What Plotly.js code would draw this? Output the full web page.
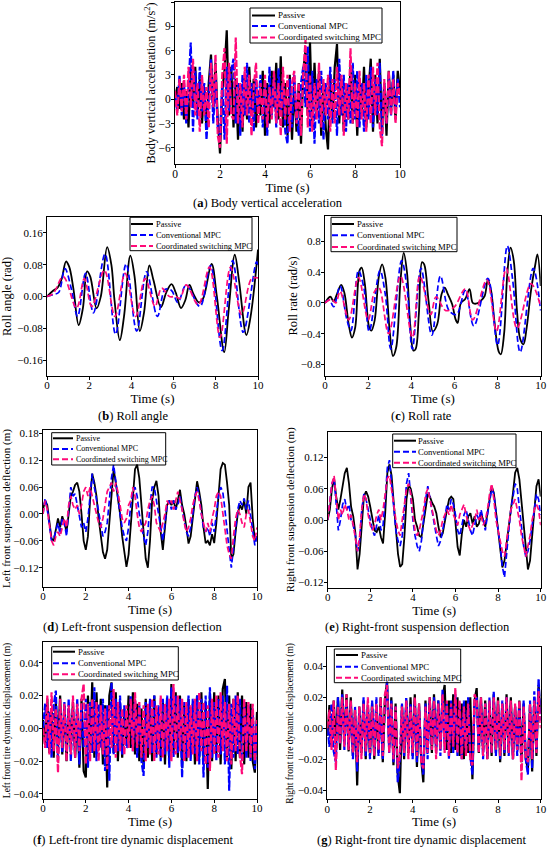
<!DOCTYPE html>
<html><head><meta charset="utf-8">
<script src="https://cdn.plot.ly/plotly-3.0.1.min.js"></script>
<style>html,body{margin:0;padding:0;background:#fff}#chart{width:550px;height:850px}</style>
</head><body><div id="chart"></div>
<script>
const seriesNames = ['Passive', 'Conventional MPC', 'Coordinated switching MPC'];
const timeStep = 0.1;

// (a) Body vertical acceleration (m/s^2), sampled every 0.1 s
const accPassive = [0,1.5,-1.2,2.0,-2.5,1.0,-3.5,3.5,-1.0,4.0,
 -2.0,2.5,-3.0,1.5,-3.8,2.0,5.5,-1.5,4.5,-2.5,
 -6.7,1.0,3.5,8.5,-2.0,4.0,-3.5,2.5,-5.0,1.5,
 -4.0,3.0,-2.5,4.0,-1.5,2.5,-3.5,1.0,-2.0,3.5,
 -4.5,2.0,-3.0,3.5,-1.0,4.5,-2.5,5.3,-3.5,2.0,
 -4.5,3.0,-5.0,1.5,-4.0,2.0,-5.5,3.5,6.0,-2.0,
 7.0,-3.0,4.5,-2.0,3.5,-4.5,2.0,-3.5,-6.2,3.0,
 -2.5,4.0,6.8,-3.0,2.5,-4.0,1.5,-2.5,4.0,-3.0,
 3.0,-4.5,2.5,-2.0,4.0,-3.5,1.0,5.0,-4.0,3.0,
 -3.0,5.0,-4.0,2.0,-4.5,3.5,-1.5,3.0,-2.5,3.5,
 1.0];
const accConventional = [0.5,-1.5,3.0,-2.0,2.0,-3.0,1.5,7.0,-4.0,3.5,
 -2.5,4.0,-1.5,2.0,-5.0,1.0,5.0,-3.0,2.5,-3.5,
 -4.5,2.0,-5.0,4.0,-1.5,3.5,5.0,-3.0,2.0,-4.5,
 3.0,-2.0,4.5,-3.0,2.0,-4.0,2.5,-1.0,3.0,-3.5,
 2.0,-4.5,4.0,-2.0,3.0,-3.5,3.8,-1.5,2.0,-4.0,
 -5.5,2.5,-3.5,3.0,-2.0,-4.5,2.0,4.0,-1.0,6.5,
 -4.0,3.5,-5.5,2.5,-3.0,3.5,-5.0,2.0,-2.5,4.0,
 -3.0,2.5,-4.5,5.0,-2.0,3.0,-4.0,2.0,-3.0,4.5,
 -2.5,3.5,-3.5,2.0,-4.0,3.0,-2.5,4.0,-3.5,2.5,
 -2.0,4.5,-4.5,2.0,-3.0,3.0,-2.0,3.5,-1.5,2.5,
 -1.0];
const accCoordinated = [1.0,-2.0,2.5,-1.5,3.0,-2.5,4.0,-1.0,5.0,-2.0,
 2.0,-4.0,3.0,-2.0,1.5,-3.5,4.5,-1.0,5.5,-4.5,
 -6.0,3.0,6.3,-5.5,4.5,-2.0,-2.5,7.6,-3.0,2.0,
 -3.5,4.0,-2.0,3.0,-4.5,1.5,4.5,-3.0,2.0,-2.5,
 3.0,-3.5,1.5,-2.5,3.5,-3.0,2.0,-4.5,4.0,-2.5,
 3.0,-4.0,2.0,3.5,-3.0,2.0,-4.5,3.0,7.3,-3.5,
 3.0,-4.0,2.0,-2.5,4.5,-3.5,2.5,-2.0,3.0,-4.0,
 2.5,-3.0,4.0,-2.0,3.0,-4.5,2.0,-2.5,6.3,-3.0,
 2.0,-3.5,3.5,-2.5,2.0,-4.0,3.0,-3.0,4.0,-2.0,
 4.5,-3.5,-5.8,2.5,-3.0,3.5,-2.0,2.5,-3.0,2.0,
 0.5];

// (b) Roll angle (rad): key points
const rollAngleTimePassive = [0,0.3,0.5,0.7,0.9,1.05,1.25,1.5,1.7,1.9,2.05,2.35,2.55,2.85,3.05,3.2,3.45,3.65,3.95,4.15,4.4,4.6,4.85,5.05,5.4,5.65,5.9,6.1,6.35,6.55,6.75,6.95,7.2,7.4,7.8,8.05,8.4,8.6,8.9,9.1,9.45,9.65,10];
const rollAnglePassive = [0,0.015,0.022,0.045,0.088,0.075,0.02,-0.072,-0.03,0.063,0.05,-0.03,0.0,0.124,0.08,-0.01,-0.11,-0.05,0.103,0.05,-0.087,-0.04,0.078,0.04,-0.027,0.01,0.031,0.01,-0.029,-0.01,0.029,0.005,-0.015,-0.005,0.082,0.0,-0.14,-0.04,0.105,0.04,-0.097,-0.05,0.118];
const rollAngleTimeConventional = [0,0.3,0.55,0.85,1.15,1.45,1.83,2.2,2.75,3.25,3.75,4.25,4.72,5.23,5.6,5.9,6.2,6.6,7.25,7.75,8.3,8.8,9.3,9.93,10];
const rollAngleConventional = [0,0.005,0.01,0.07,0.02,-0.05,0.058,-0.041,0.107,-0.095,0.082,-0.087,0.062,-0.05,0.018,0.015,-0.015,0.029,-0.025,0.078,-0.136,0.09,-0.09,0.087,0.08];
const rollAngleTimeCoordinated = [0,0.3,0.77,1.4,1.77,2.12,2.72,3.22,3.7,4.2,4.65,5.12,5.43,5.8,6.1,6.3,6.6,7.17,7.7,8.2,8.7,9.22,9.7,10];
const rollAngleCoordinated = [0,0.008,0.05,-0.029,0.045,-0.025,0.066,-0.05,0.058,-0.05,0.045,-0.025,0.021,0.0,0.0,-0.005,0.029,-0.021,0.074,-0.103,0.074,-0.045,0.045,0.047];

// (c) Roll rate (rad/s): key points
const rollRateTimePassive = [0,0.25,0.4,0.55,0.75,0.9,1.1,1.25,1.4,1.6,1.7,1.85,2.05,2.15,2.3,2.5,2.65,2.8,3.0,3.15,3.3,3.5,3.65,3.8,3.95,4.1,4.2,4.35,4.5,4.6,4.8,5.0,5.2,5.4,5.55,5.7,5.9,6.05,6.15,6.3,6.5,6.7,6.85,7.0,7.2,7.4,7.55,7.7,7.85,8.05,8.15,8.3,8.45,8.6,8.75,8.9,9.05,9.2,9.35,9.55,9.75,9.85,10];
const rollRatePassive = [0,0.08,0.02,0.11,0.235,0.13,-0.28,-0.45,-0.32,0.42,0.46,0.24,-0.32,-0.36,-0.23,0.35,0.5,0.33,-0.37,-0.69,-0.58,0.29,0.65,0.4,-0.28,-0.62,-0.6,-0.15,0.53,0.5,0.03,-0.37,-0.28,0.11,0.2,0.11,-0.02,-0.21,-0.26,0.0,0.05,0.18,0.0,-0.01,0.02,0.09,0.3,0.16,-0.23,-0.63,-0.67,-0.41,0.37,0.72,0.55,-0.1,-0.47,-0.54,-0.32,0.16,0.5,0.63,0.22];
const rollRateTimeConventional = [0,0.2,0.4,0.7,1.0,1.2,1.55,1.8,2.05,2.55,2.8,3.05,3.55,3.8,4.05,4.45,4.95,5.35,5.75,6.1,6.5,6.9,7.55,8.0,8.45,8.7,9.05,9.65,10];
const rollRateConventional = [0,0.04,-0.05,0.22,-0.2,-0.36,0.42,0.2,-0.37,0.42,0.1,-0.6,0.55,0.2,-0.6,0.45,-0.42,0.35,-0.1,-0.15,0.16,-0.3,0.32,-0.55,0.74,0.3,-0.64,0.45,-0.1];
const rollRateTimeCoordinated = [0,0.3,0.5,0.7,1.1,1.55,2.0,2.3,2.5,2.95,3.5,4.05,4.4,4.9,5.15,5.6,6.0,6.5,6.85,7.5,7.95,8.4,8.9,9.55,10];
const rollRateCoordinated = [0,0.05,0.0,0.15,-0.22,0.33,-0.22,0.15,0.2,-0.4,0.35,-0.45,0.35,-0.15,0.08,-0.1,-0.05,0.18,-0.22,0.3,-0.37,0.45,-0.33,0.25,-0.05];

// (d) Left-front suspension deflection (m), every 0.1 s
const lfSuspPassive = [0.01,0.03,0.02,-0.02,-0.055,-0.06,-0.035,-0.01,-0.03,-0.005,
 -0.02,-0.04,0.0,0.04,0.05,0.065,0.07,0.05,0.0,-0.06,
 -0.08,-0.05,0.03,0.09,0.07,0.04,-0.01,-0.05,-0.085,-0.1,
 -0.08,-0.02,0.05,0.1,0.07,0.04,0.0,-0.05,-0.09,-0.118,
 -0.09,-0.03,0.05,0.1,0.11,0.08,0.02,-0.05,-0.1,-0.12,
 -0.06,0.03,0.06,0.074,0.04,-0.04,-0.08,-0.03,0.02,0.03,
 0.02,0.03,0.01,0.03,0.054,0.02,0.0,-0.03,-0.066,-0.05,
 -0.01,0.04,0.073,0.05,0.02,-0.03,-0.065,-0.06,-0.07,-0.045,
 -0.065,-0.02,0.05,0.1,0.114,0.11,0.07,0.02,-0.1,-0.09,
 -0.04,0.0,0.02,0.01,0.03,0.0,0.06,0.07,-0.01,-0.06,
 -0.05];
const lfSuspConventional = [0,0.035,0.01,-0.02,-0.06,-0.055,-0.04,-0.02,-0.045,-0.01,
 -0.02,-0.05,0.01,0.06,0.04,0.045,0.02,-0.01,-0.03,-0.02,
 -0.04,-0.01,0.04,0.09,0.06,0.03,0.0,-0.03,-0.05,-0.04,
 -0.02,0.03,0.08,0.11,0.07,0.04,0.0,-0.03,-0.05,-0.06,
 -0.03,0.02,0.05,0.06,0.04,0.0,-0.03,-0.05,-0.07,-0.04,
 0.02,0.06,0.06,0.03,-0.01,-0.04,-0.06,-0.02,0.02,0.03,
 0.01,0.03,0.01,0.02,0.04,0.01,-0.02,-0.04,-0.05,-0.03,
 0.0,0.04,0.06,0.04,0.0,-0.03,-0.04,-0.03,-0.05,-0.02,
 -0.04,0.0,0.04,0.06,0.05,0.01,-0.04,-0.08,-0.12,-0.08,
 -0.03,0.01,0.03,0.02,0.035,0.01,0.03,0.0,-0.03,-0.07,
 -0.05];
const lfSuspCoordinated = [0,0.03,0.01,-0.02,-0.06,-0.07,-0.05,-0.04,-0.05,-0.03,
 -0.01,-0.03,0.02,0.04,0.02,0.01,0.02,0.0,0.02,0.05,
 0.06,0.04,0.06,0.04,0.02,0.0,-0.02,-0.03,-0.01,0.02,
 0.05,0.06,0.07,0.05,0.07,0.05,0.02,-0.01,-0.02,-0.01,
 0.02,0.03,0.06,0.04,0.0,-0.03,-0.04,-0.03,-0.02,0.01,
 0.03,0.04,0.02,-0.02,-0.03,-0.04,-0.02,0.0,0.03,0.02,
 0.03,0.01,0.03,0.05,0.03,0.01,-0.02,-0.04,-0.03,-0.01,
 0.02,0.04,0.05,0.03,0.0,-0.02,-0.04,-0.02,-0.04,-0.01,
 0.01,0.04,0.05,0.04,0.0,-0.04,-0.07,-0.09,-0.1,-0.05,
 -0.01,0.01,0.0,-0.02,-0.03,0.0,0.01,-0.02,-0.05,-0.06,
 -0.03];

// (e) Right-front suspension deflection (m), every 0.1 s
const rfSuspPassive = [0,0.02,0.06,0.08,0.045,0.02,0.04,0.065,0.09,0.1,
 0.07,0.025,0.007,-0.025,-0.095,-0.065,0,0.045,0.055,0.045,
 0.025,0,-0.02,-0.023,-0.013,-0.033,-0.045,0.013,0.09,0.107,
 0.085,0.033,-0.02,-0.065,-0.09,-0.085,-0.033,0.04,0.068,0.06,
 0.04,0,-0.013,-0.03,-0.033,-0.007,0.025,0.05,0.045,0.033,
 0.026,0.013,-0.013,-0.033,-0.026,0,0.02,0.04,0.045,0.04,
 0,-0.052,-0.068,-0.026,0,-0.013,0.007,0.013,-0.007,0.007,
 -0.013,-0.007,0.013,0,-0.013,0.013,0.04,0.065,0.052,0.013,
 -0.026,-0.059,-0.091,-0.078,-0.045,-0.02,0.013,0.052,0.091,0.1,
 0.078,0.033,-0.02,-0.065,-0.095,-0.078,-0.033,0.013,0.065,0.078,
 0.045];
const rfSuspConventional = [0,0.03,0.07,0.08,0.03,-0.02,0.0,0.03,0.04,0.02,
 0.03,0.0,-0.01,-0.03,-0.06,-0.04,0.02,0.05,0.04,0.02,
 0.0,-0.02,-0.03,-0.01,0.01,-0.02,-0.01,0.04,0.1,0.115,
 0.07,0.02,-0.02,-0.04,-0.05,-0.03,0.03,0.07,0.09,0.04,
 0.0,-0.03,-0.05,-0.06,-0.04,0.0,0.04,0.065,0.04,0.02,
 -0.01,-0.03,-0.05,-0.04,-0.02,0.01,0.03,0.02,0.04,0.03,
 0.01,-0.02,-0.03,-0.01,0.01,0.02,0.0,-0.02,-0.03,-0.01,
 0.01,0.0,0.02,0.0,-0.02,0.01,0.04,0.06,0.05,0.01,
 -0.02,-0.05,-0.09,-0.11,-0.06,-0.02,0.02,0.05,0.07,0.06,
 0.02,-0.02,-0.05,-0.07,-0.06,-0.04,-0.01,0.02,0.05,0.04,
 0.01];
const rfSuspCoordinated = [0,0.03,0.07,0.085,0.04,0.0,0.02,0.01,0.03,0.02,
 0.0,0.01,-0.01,-0.04,-0.06,-0.03,0.02,0.05,0.04,0.01,
 -0.01,-0.02,-0.01,0.01,0.02,0.0,0.02,0.05,0.08,0.085,
 0.06,0.03,0.0,-0.02,-0.03,0.0,0.04,0.06,0.07,0.05,
 0.01,-0.02,-0.03,-0.02,0.0,0.02,0.05,0.06,0.04,0.02,
 0.0,-0.02,-0.03,-0.02,0.0,0.01,0.02,0.01,0.03,0.01,
 0.0,-0.01,0.01,0.02,0.03,0.01,-0.01,-0.02,-0.01,0.0,
 0.02,0.0,0.01,-0.01,0.0,0.02,0.05,0.07,0.04,0.0,
 -0.02,-0.04,-0.06,-0.07,-0.04,-0.01,0.02,0.03,0.04,0.02,
 0.0,-0.03,-0.05,-0.07,-0.05,-0.03,0.0,0.02,0.03,0.02,
 -0.01];

// (f) Left-front tire dynamic displacement (m), every 0.1 s
const lfTirePassive = [0.005,-0.01,0.018,-0.015,0.012,-0.018,0.016,-0.012,0.02,-0.016,
 0.014,-0.02,0.012,-0.01,0.016,-0.018,0.01,-0.024,0.018,-0.026,
 -0.03,0.02,-0.015,0.028,-0.018,0.022,-0.012,0.018,-0.022,0.014,
 -0.036,0.02,0.028,-0.015,0.022,-0.02,0.015,-0.018,0.012,-0.01,
 0.02,-0.012,0.022,-0.016,0.015,-0.02,0.012,-0.025,0.018,-0.018,
 0.014,-0.02,0.02,-0.016,0.012,-0.018,0.016,-0.022,0.018,-0.02,
 0.027,-0.015,0.022,-0.018,0.02,-0.024,0.014,-0.02,0.018,-0.016,
 0.015,-0.022,0.02,-0.018,0.022,-0.02,0.016,-0.037,0.02,-0.02,
 0.022,-0.016,0.02,-0.022,0.024,0.03,-0.018,0.02,-0.025,0.018,
 -0.02,0.022,-0.018,0.02,-0.022,0.016,-0.018,0.015,-0.02,-0.027,
 0.01];
const lfTireConventional = [0.0,0.015,-0.012,0.01,-0.018,0.014,0.023,-0.02,0.012,-0.015,
 0.016,-0.014,0.018,-0.02,0.012,-0.016,0.018,-0.022,0.015,-0.012,
 0.018,-0.024,0.016,-0.015,0.025,-0.02,0.015,-0.012,0.018,-0.026,
 0.014,-0.032,0.028,-0.016,0.018,-0.014,0.02,-0.016,0.014,-0.012,
 -0.01,0.02,-0.014,0.018,-0.018,0.014,-0.02,-0.029,0.016,-0.012,
 0.018,-0.015,0.02,-0.018,0.014,-0.02,0.018,-0.016,0.02,-0.024,
 0.025,-0.018,0.02,-0.015,0.018,-0.03,0.016,-0.018,0.02,-0.02,
 0.018,-0.016,0.02,-0.022,0.018,-0.03,0.02,-0.024,0.025,-0.018,
 0.016,-0.02,0.018,-0.016,0.02,-0.022,0.026,-0.038,0.015,-0.018,
 0.02,-0.016,0.018,-0.02,0.016,-0.018,0.014,-0.02,0.012,-0.025,
 0.005];
const lfTireCoordinated = [0.0,-0.012,0.02,-0.016,0.022,-0.014,0.012,-0.027,0.018,-0.012,
 0.015,-0.02,0.014,-0.016,0.02,-0.018,0.015,-0.014,0.018,0.027,
 -0.022,0.015,-0.02,0.018,-0.014,0.016,-0.02,0.014,-0.016,0.012,
 -0.025,0.014,-0.012,0.024,-0.018,0.016,-0.014,0.012,-0.016,0.014,
 -0.012,0.018,-0.014,0.022,-0.012,0.016,-0.018,0.014,-0.02,0.015,
 -0.016,0.018,-0.02,0.014,-0.016,0.02,-0.018,0.015,-0.014,0.018,
 -0.02,0.027,-0.016,0.02,-0.014,0.018,-0.02,0.016,-0.018,0.014,
 -0.016,0.018,-0.02,0.022,-0.014,0.016,-0.022,0.014,-0.026,0.018,
 -0.016,0.02,-0.018,0.022,-0.014,0.016,-0.02,0.015,-0.022,0.018,
 -0.014,0.02,-0.016,-0.028,0.018,-0.014,0.016,-0.018,0.015,-0.02,
 0.005];

// (g) Right-front tire dynamic displacement (m), every 0.1 s
const rfTirePassive = [-0.005,0.015,-0.012,0.018,-0.01,0.02,-0.014,0.025,-0.008,0.022,
 -0.015,0.02,-0.018,0.012,-0.037,0.014,-0.016,0.018,-0.02,0.015,
 -0.018,0.016,-0.02,0.012,-0.016,0.02,-0.022,0.018,0.03,-0.012,
 0.02,-0.024,0.016,-0.03,-0.042,0.015,-0.02,0.018,-0.016,0.02,
 -0.018,0.022,-0.025,0.016,-0.02,-0.035,0.018,-0.015,0.02,-0.016,
 0.022,-0.014,0.018,-0.012,0.02,0.028,-0.014,0.018,-0.016,0.022,
 -0.014,0.02,-0.018,0.016,-0.02,0.018,-0.016,0.02,-0.033,0.018,
 0.026,-0.016,0.02,-0.014,0.018,-0.02,0.016,-0.018,0.022,-0.016,
 0.02,-0.022,0.016,-0.018,0.022,-0.016,0.02,-0.02,0.014,-0.014,
 0.018,-0.022,0.016,-0.02,-0.026,0.015,-0.028,0.02,-0.018,0.028,
 0.01];
const rfTireConventional = [0.0,-0.012,0.016,-0.015,-0.022,0.02,-0.01,0.022,-0.014,0.018,
 -0.012,0.016,-0.02,0.014,-0.028,0.012,-0.015,0.02,-0.018,0.014,
 -0.02,0.018,-0.016,0.02,-0.018,0.014,-0.02,0.016,0.03,-0.016,
 0.018,-0.022,0.014,-0.035,-0.02,0.016,-0.018,0.02,-0.014,0.016,
 -0.02,0.018,-0.022,0.014,-0.018,-0.03,0.016,-0.02,0.018,-0.014,
 0.02,-0.016,0.018,-0.018,0.025,-0.014,0.016,-0.02,0.018,-0.016,
 0.022,-0.018,0.016,-0.02,0.018,-0.016,0.02,-0.018,-0.03,0.016,
 0.02,-0.014,0.018,-0.02,0.016,-0.018,0.02,-0.016,0.024,-0.018,
 0.016,-0.02,0.018,-0.016,0.02,-0.018,0.016,-0.02,0.014,-0.018,
 0.016,-0.022,0.018,-0.02,-0.03,0.018,-0.026,0.024,-0.014,0.032,
 0.005];
const rfTireCoordinated = [0.0,0.012,-0.014,0.018,-0.027,0.014,-0.01,0.02,-0.012,0.022,
 -0.014,0.018,-0.016,0.012,-0.022,0.014,-0.02,0.016,-0.015,0.02,
 -0.016,0.014,-0.018,0.016,-0.014,0.02,-0.018,0.022,0.028,-0.016,
 0.016,-0.02,0.014,-0.026,-0.018,0.014,-0.016,0.018,-0.02,0.014,
 -0.016,0.02,-0.018,0.016,-0.022,-0.026,0.014,-0.016,0.02,-0.014,
 0.018,-0.02,0.016,-0.014,0.022,-0.016,0.018,-0.018,0.016,-0.012,
 0.026,-0.016,0.018,-0.02,0.014,-0.018,0.016,-0.02,-0.024,0.022,
 0.018,-0.016,0.02,-0.018,0.016,-0.02,0.018,-0.016,0.02,-0.014,
 0.018,-0.018,0.016,-0.014,0.02,-0.016,0.018,-0.02,0.016,-0.014,
 0.018,-0.034,0.014,-0.018,-0.022,0.016,-0.02,0.018,-0.016,0.024,
 0.0];

// Text
const timeTitle = 'Time (s)';
const yTitles = ['Body vertical acceleration (m/s<sup>2</sup>)', 'Roll angle (rad)', 'Roll rate (rad/s)',
  'Left front suspension deflection (m)', 'Right front suspension deflection (m)',
  'Left front tire dynamic displacement (m)', 'Right front tire dynamic displacement (m)'];
const captionLetters = ['a','b','c','d','e','f','g'];
const captionTexts = ['Body vertical acceleration','Roll angle','Roll rate','Left-front suspension deflection',
  'Right-front suspension deflection','Left-front tire dynamic displacement','Right-front tire dynamic displacement'];

// ---------- layout / style (pixel geometry) ----------
const W = 550, H = 850;
const FONT = 'Liberation Serif, Times New Roman, serif';
const colors = ['#000000', '#0000ff', '#ff0a78'];
const dashes = ['solid', '6px,3px', '6px,3px'];
const noisyDashes = ['solid', '7px,2px', '7px,2px'];

const panels = [
  {box:[175,400,2,164], yr:[-8,12], dtick:3, fmt:'', tf:11.5, yt:12.2, ys:0,
   cap:[268,203], leg:{b:[250,382,8,43], rows:[15.5,26,37.5], l:[252,275], t:277, f:9}},
  {box:[47,258,217,376], yr:[-0.2,0.2], dtick:0.08, fmt:'.2f', tf:11, yt:12.5, ys:4,
   cap:[133,416], leg:{b:[130,252,217.3,250.7], rows:[224,235,246], l:[131,153], t:155, f:8.4}},
  {box:[325,540.7,216,376], yr:[-0.95,1.13], dtick:0.4, fmt:'.1f', tf:11, yt:12.5, ys:0,
   cap:[421,416], leg:{b:[331,457,217.3,251.7], rows:[224,235.3,247], l:[332,354], t:356, f:8.7}},
  {box:[43,257,430,587], yr:[-0.163,0.1875], dtick:0.06, fmt:'.2f', tf:11, yt:11, ys:1,
   cap:[133,627], leg:{b:[51.7,165.7,432.7,465], rows:[438.3,449,459.3], l:[53,73], t:74.5, f:8}},
  {box:[327.7,540.7,432,587.7], yr:[-0.13,0.169], dtick:0.06, fmt:'.2f', tf:11, yt:11, ys:1,
   cap:[417,627], leg:{b:[392.7,516,434,467.7], rows:[440.7,451.7,462.7], l:[394,416], t:417.5, f:8.6}},
  {box:[43,257,642,799], yr:[-0.0431,0.0526], dtick:0.02, fmt:'.2f', tf:11, yt:9.5, ys:1,
   cap:[133,840], leg:{b:[51.7,178.3,646.7,680], rows:[651.7,663.3,674.3], l:[53,75], t:76.5, f:8.8}},
  {box:[327.3,540.7,647.3,799.3], yr:[-0.046,0.0524], dtick:0.02, fmt:'.2f', tf:11, yt:9.5, ys:2,
   cap:[422,840], leg:{b:[334.3,460.7,649,682.7], rows:[655,666.7,677.7], l:[336,358], t:359.5, f:8.8}}
];

const px = x => x / W;
const py = y => 1 - y / H;

const uniformData = {
  0: [accPassive, accConventional, accCoordinated],
  3: [lfSuspPassive, lfSuspConventional, lfSuspCoordinated],
  4: [rfSuspPassive, rfSuspConventional, rfSuspCoordinated],
  5: [lfTirePassive, lfTireConventional, lfTireCoordinated],
  6: [rfTirePassive, rfTireConventional, rfTireCoordinated]
};
const keyData = {
  1: [[rollAngleTimePassive, rollAnglePassive], [rollAngleTimeConventional, rollAngleConventional], [rollAngleTimeCoordinated, rollAngleCoordinated]],
  2: [[rollRateTimePassive, rollRatePassive], [rollRateTimeConventional, rollRateConventional], [rollRateTimeCoordinated, rollRateCoordinated]]
};

const traces = [];
const layout = {
  width: W, height: H, margin: {l:0, r:0, t:0, b:0},
  paper_bgcolor: '#fff', plot_bgcolor: 'rgba(0,0,0,0)', showlegend: false,
  font: {family: FONT, color: '#000'}, shapes: [], annotations: []
};

panels.forEach((p, k) => {
  const sfx = k === 0 ? '' : String(k + 1);
  const xa = 'x' + sfx, ya = 'y' + sfx;
  const noisy = (k === 0 || k === 5 || k === 6);
  for (let i = 0; i < 3; i++) {
    const w = noisy ? 2.2 : (i === 0 ? 1.8 : 1.7);
    const tr = {type:'scatter', mode:'lines', name: seriesNames[i], xaxis: xa, yaxis: ya,
      line: {color: colors[i], width: w, dash: noisy ? noisyDashes[i] : dashes[i]}, hoverinfo:'skip'};
    if (uniformData[k]) { tr.x0 = 0; tr.dx = timeStep; tr.y = uniformData[k][i]; }
    else { tr.x = keyData[k][i][0]; tr.y = keyData[k][i][1]; tr.line.shape = 'spline'; tr.line.smoothing = 1; }
    traces.push(tr);
  }
  const axCommon = {showline:true, mirror:true, linecolor:'#000', linewidth:1, ticks:'outside', ticklen:3,
    tickwidth:1, tickcolor:'#000', showgrid:false, zeroline:false, automargin:false,
    tickfont:{family:FONT, size:p.tf, color:'#000'}};
  layout['xaxis' + sfx] = Object.assign({}, axCommon, {
    domain:[px(p.box[0]), px(p.box[1])], range:[0,10], dtick:2, tick0:0, anchor: ya, ticklabelstandoff: -4,
    title:{text: timeTitle, font:{family:FONT, size:13, color:'#000'}, standoff: 1}
  });
  layout['yaxis' + sfx] = Object.assign({}, axCommon, {
    domain:[py(p.box[3]), py(p.box[2])], range:p.yr, dtick:p.dtick, tick0:0, tickformat:p.fmt, anchor: xa,
    ticklabelstandoff: -2,
    title:{text: yTitles[k], font:{family:FONT, size:p.yt, color:'#000'}, standoff: p.ys}
  });
  // caption
  layout.annotations.push({xref:'paper', yref:'paper', x:px(p.cap[0]), y:py(p.cap[1]), xanchor:'center', yanchor:'middle',
    showarrow:false, text:'(<b>' + captionLetters[k] + '</b>) ' + captionTexts[k], font:{family:FONT, size:12.5, color:'#000'}});
  // custom legend box
  const L = p.leg;
  layout.shapes.push({type:'rect', xref:'paper', yref:'paper', x0:px(L.b[0]), x1:px(L.b[1]), y0:py(L.b[3]), y1:py(L.b[2]),
    line:{color:'#000', width:1}, fillcolor:'rgba(0,0,0,0)'});
  for (let i = 0; i < 3; i++) {
    layout.shapes.push({type:'line', xref:'paper', yref:'paper', x0:px(L.l[0]), x1:px(L.l[1]), y0:py(L.rows[i]), y1:py(L.rows[i]),
      line:{color: colors[i], width: 2, dash: dashes[i]}});
    layout.annotations.push({xref:'paper', yref:'paper', x:px(L.t), y:py(L.rows[i]), xanchor:'left', yanchor:'middle',
      showarrow:false, text: seriesNames[i], font:{family:FONT, size:L.f, color:'#000'}, borderpad:0});
  }
});

Plotly.newPlot('chart', traces, layout, {displayModeBar:false, staticPlot:true});
</script>
</body></html>
